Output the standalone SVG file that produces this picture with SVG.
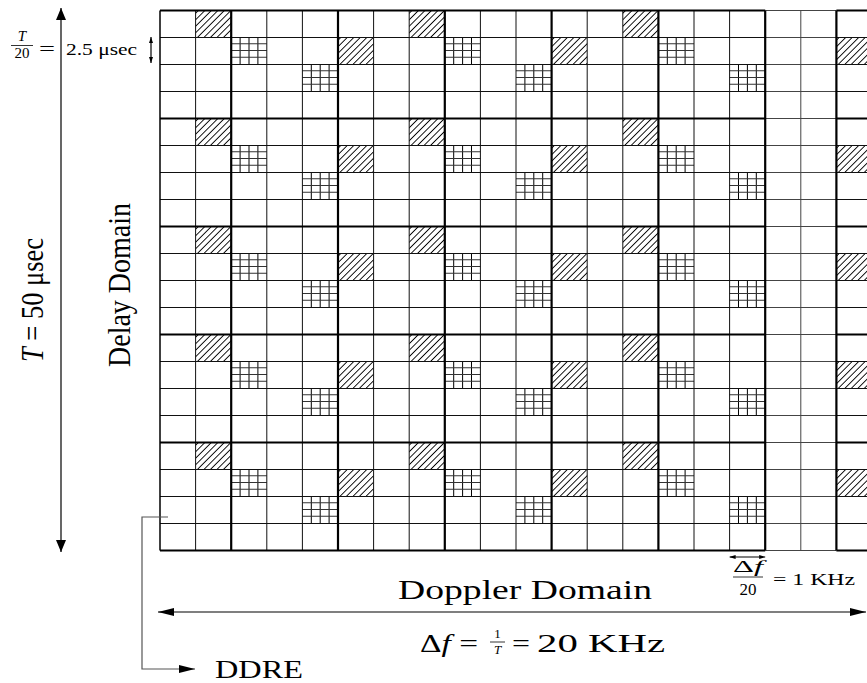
<svg xmlns="http://www.w3.org/2000/svg" xmlns:xlink="http://www.w3.org/1999/xlink" width="867" height="683" viewBox="0 0 867 683">
<style>
.thin{stroke:#111;stroke-width:1;fill:none}
.gray{stroke:#444;stroke-width:1;fill:none}
.thick{stroke:#000;stroke-width:2.2;fill:none}
.border{stroke:#000;stroke-width:1.5;fill:none}
.lbl{font-family:"Liberation Serif","DejaVu Serif",serif;fill:#000}
.it{font-style:italic}
.arr{stroke:#000;stroke-width:1.2;fill:none}
.conn{stroke:#555;stroke-width:1.2;fill:none}
</style>
<defs>
<pattern id="hatch" width="4.6" height="4.6" patternUnits="userSpaceOnUse" patternTransform="rotate(45)">
<line x1="2.3" y1="0" x2="2.3" y2="4.6" stroke="#000" stroke-width="0.9"/>
</pattern>
<rect id="hc" width="35.6" height="27" fill="url(#hatch)"/>
<g id="gc">
<path d="M8.9 0V27M17.8 0V27M26.7 0V27" stroke="#000" stroke-width="1"/>
<path d="M0 6.75H35.6M0 13.5H35.6M0 20.25H35.6" stroke="#333" stroke-width="1"/>
</g>
<marker id="ah" viewBox="0 0 12 10" refX="12" refY="5" markerWidth="12" markerHeight="10" markerUnits="userSpaceOnUse" orient="auto-start-reverse">
<path d="M0 0L12 5L0 10Z" fill="#000"/>
</marker>
<marker id="ahw" viewBox="0 0 16 8" refX="16" refY="4" markerWidth="16" markerHeight="8" markerUnits="userSpaceOnUse" orient="auto-start-reverse">
<path d="M0 0L16 4L0 8Z" fill="#000"/>
</marker>
<marker id="ahs" viewBox="0 0 6 4" refX="6" refY="2" markerWidth="6" markerHeight="4" markerUnits="userSpaceOnUse" orient="auto-start-reverse">
<path d="M0 0L6 2L0 4Z" fill="#000"/>
</marker>
</defs>
<rect width="867" height="683" fill="#fff"/>

<g id="cells">
<g id="hatched">
<use xlink:href="#hc" x="195.6" y="10"/><use xlink:href="#hc" x="338" y="37"/><use xlink:href="#hc" x="409.2" y="10"/><use xlink:href="#hc" x="551.6" y="37"/><use xlink:href="#hc" x="622.8" y="10"/><use xlink:href="#hc" x="836.4" y="37"/>
<use xlink:href="#hc" x="195.6" y="118"/><use xlink:href="#hc" x="338" y="145"/><use xlink:href="#hc" x="409.2" y="118"/><use xlink:href="#hc" x="551.6" y="145"/><use xlink:href="#hc" x="622.8" y="118"/><use xlink:href="#hc" x="836.4" y="145"/>
<use xlink:href="#hc" x="195.6" y="226"/><use xlink:href="#hc" x="338" y="253"/><use xlink:href="#hc" x="409.2" y="226"/><use xlink:href="#hc" x="551.6" y="253"/><use xlink:href="#hc" x="622.8" y="226"/><use xlink:href="#hc" x="836.4" y="253"/>
<use xlink:href="#hc" x="195.6" y="334"/><use xlink:href="#hc" x="338" y="361"/><use xlink:href="#hc" x="409.2" y="334"/><use xlink:href="#hc" x="551.6" y="361"/><use xlink:href="#hc" x="622.8" y="334"/><use xlink:href="#hc" x="836.4" y="361"/>
<use xlink:href="#hc" x="195.6" y="442"/><use xlink:href="#hc" x="338" y="469"/><use xlink:href="#hc" x="409.2" y="442"/><use xlink:href="#hc" x="551.6" y="469"/><use xlink:href="#hc" x="622.8" y="442"/><use xlink:href="#hc" x="836.4" y="469"/>
</g>
<g id="gridded">
<use xlink:href="#gc" x="231.2" y="37"/><use xlink:href="#gc" x="302.4" y="64"/><use xlink:href="#gc" x="444.8" y="37"/><use xlink:href="#gc" x="516" y="64"/><use xlink:href="#gc" x="658.4" y="37"/><use xlink:href="#gc" x="729.6" y="64"/>
<use xlink:href="#gc" x="231.2" y="145"/><use xlink:href="#gc" x="302.4" y="172"/><use xlink:href="#gc" x="444.8" y="145"/><use xlink:href="#gc" x="516" y="172"/><use xlink:href="#gc" x="658.4" y="145"/><use xlink:href="#gc" x="729.6" y="172"/>
<use xlink:href="#gc" x="231.2" y="253"/><use xlink:href="#gc" x="302.4" y="280"/><use xlink:href="#gc" x="444.8" y="253"/><use xlink:href="#gc" x="516" y="280"/><use xlink:href="#gc" x="658.4" y="253"/><use xlink:href="#gc" x="729.6" y="280"/>
<use xlink:href="#gc" x="231.2" y="361"/><use xlink:href="#gc" x="302.4" y="388"/><use xlink:href="#gc" x="444.8" y="361"/><use xlink:href="#gc" x="516" y="388"/><use xlink:href="#gc" x="658.4" y="361"/><use xlink:href="#gc" x="729.6" y="388"/>
<use xlink:href="#gc" x="231.2" y="469"/><use xlink:href="#gc" x="302.4" y="496"/><use xlink:href="#gc" x="444.8" y="469"/><use xlink:href="#gc" x="516" y="496"/><use xlink:href="#gc" x="658.4" y="469"/><use xlink:href="#gc" x="729.6" y="496"/>
</g>
</g>

<g id="grid" transform="translate(0,0.5)">
<path class="gray" d="M765.2 10H836.4M765.2 37H836.4M765.2 64H836.4M765.2 91H836.4M765.2 118H836.4M765.2 145H836.4M765.2 172H836.4M765.2 199H836.4M765.2 226H836.4M765.2 253H836.4M765.2 280H836.4M765.2 307H836.4M765.2 334H836.4M765.2 361H836.4M765.2 388H836.4M765.2 415H836.4M765.2 442H836.4M765.2 469H836.4M765.2 496H836.4M765.2 523H836.4M765.2 550H836.4M800.8 10V550"/>
<path class="thin" d="M160 37H765.2M836.4 37H867M160 64H765.2M836.4 64H867M160 91H765.2M836.4 91H867M160 145H765.2M836.4 145H867M160 172H765.2M836.4 172H867M160 199H765.2M836.4 199H867M160 253H765.2M836.4 253H867M160 280H765.2M836.4 280H867M160 307H765.2M836.4 307H867M160 361H765.2M836.4 361H867M160 388H765.2M836.4 388H867M160 415H765.2M836.4 415H867M160 469H765.2M836.4 469H867M160 496H765.2M836.4 496H867M160 523H765.2M836.4 523H867"/>
<path class="thin" d="M195.6 10V550M266.8 10V550M302.4 10V550M373.6 10V550M409.2 10V550M480.4 10V550M516 10V550M587.2 10V550M622.8 10V550M694 10V550M729.6 10V550"/>
<path class="thick" d="M160 10H765.2M836.4 10H867M160 118H765.2M836.4 118H867M160 226H765.2M836.4 226H867M160 334H765.2M836.4 334H867M160 442H765.2M836.4 442H867M160 550H765.2M836.4 550H867"/>
<path class="thick" d="M231.2 10V550M338 10V550M444.8 10V550M551.6 10V550M658.4 10V550M765.2 10V550M836.4 10V550"/>
<path class="border" d="M160 10V550"/>
</g>

<g id="connectors">
<line class="arr" x1="61" y1="8" x2="61" y2="552" marker-start="url(#ah)" marker-end="url(#ah)"/>
<line class="arr" x1="151" y1="37" x2="151" y2="63" stroke-width="0.8" marker-start="url(#ahs)" marker-end="url(#ahs)"/>
<line class="arr" x1="158" y1="612" x2="866" y2="612" marker-start="url(#ahw)" marker-end="url(#ahw)"/>
<line class="arr" x1="729.6" y1="557" x2="765.2" y2="557" stroke-width="0.8" marker-start="url(#ahs)" marker-end="url(#ahs)"/>
<path class="conn" d="M168 517H142V669H195" marker-end="url(#ahw)"/>
</g>

<g id="labels">
<text class="lbl" transform="translate(43,300) rotate(-90)" text-anchor="middle" font-size="31" textLength="124" lengthAdjust="spacingAndGlyphs"><tspan class="it">T</tspan> = 50 μsec</text>
<text class="lbl" transform="translate(130,285) rotate(-90)" text-anchor="middle" font-size="31" textLength="164" lengthAdjust="spacingAndGlyphs">Delay Domain</text>
<text class="lbl it" x="22" y="41" text-anchor="middle" font-size="15">T</text>
<line x1="11" y1="45.5" x2="33" y2="45.5" stroke="#000" stroke-width="0.8"/>
<text class="lbl" x="22" y="58" text-anchor="middle" font-size="15">20</text>
<text class="lbl" x="39" y="55" font-size="19" textLength="16" lengthAdjust="spacingAndGlyphs">=</text>
<text class="lbl" x="66" y="55" font-size="16" textLength="71" lengthAdjust="spacingAndGlyphs">2.5 μsec</text>
<text class="lbl" x="398" y="599" font-size="27" textLength="254" lengthAdjust="spacingAndGlyphs">Doppler Domain</text>
<text class="lbl" x="420" y="652" font-size="25" textLength="58" lengthAdjust="spacingAndGlyphs">Δ<tspan class="it">f</tspan> =</text>
<text class="lbl" x="497.5" y="638" text-anchor="middle" font-size="13">1</text>
<line x1="490" y1="642" x2="505" y2="642" stroke="#000" stroke-width="0.8"/>
<text class="lbl it" x="497.5" y="654" text-anchor="middle" font-size="13">T</text>
<text class="lbl" x="512" y="652" font-size="25" textLength="18" lengthAdjust="spacingAndGlyphs">=</text>
<text class="lbl" x="537" y="652" font-size="25" textLength="128" lengthAdjust="spacingAndGlyphs">20 KHz</text>
<text class="lbl" x="733" y="572" font-size="17" textLength="30" lengthAdjust="spacingAndGlyphs">Δ<tspan class="it">f</tspan></text>
<line x1="733" y1="577" x2="763" y2="577" stroke="#000" stroke-width="0.8"/>
<text class="lbl" x="748" y="595" text-anchor="middle" font-size="17">20</text>
<text class="lbl" x="773" y="585" font-size="16" textLength="82" lengthAdjust="spacingAndGlyphs">= 1 KHz</text>
<text class="lbl" x="215" y="678" font-size="26" textLength="88" lengthAdjust="spacingAndGlyphs">DDRE</text>
</g>
</svg>
